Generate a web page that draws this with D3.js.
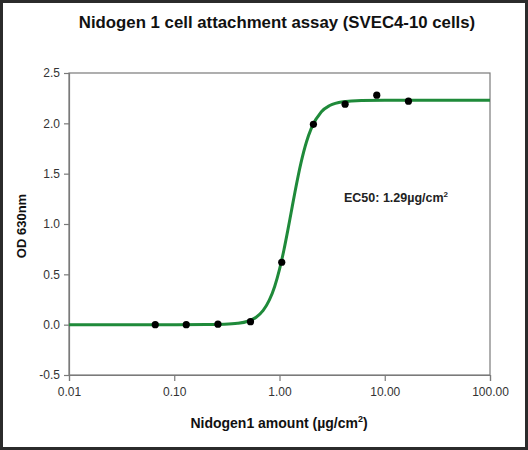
<!DOCTYPE html>
<html>
<head>
<meta charset="utf-8">
<script src="https://cdn.jsdelivr.net/npm/d3@7"></script>
<style>
  body { margin: 0; background: #fff; }
  text { font-family: "Liberation Sans", Arial, sans-serif; }
</style>
</head>
<body>
<script>
var svgWidth = 528;
var svgHeight = 450;

// measured points (amount, OD)
var amounts = [0.066, 0.13, 0.26, 0.53, 1.05, 2.1, 4.2, 8.4, 16.8];
var odValues = [0.00, 0.00, 0.005, 0.03, 0.62, 1.99, 2.19, 2.28, 2.22];

// fitted curve
var curveX = [0.01, 0.1, 0.2, 0.3, 0.4, 0.5, 0.6, 0.7, 0.8, 0.9, 1.0, 1.1, 1.2, 1.29, 1.4, 1.6, 1.8, 2.0, 2.5, 3, 4, 6, 10, 30, 100];
var curveY = [0, 0, 0.001, 0.004, 0.013, 0.034, 0.074, 0.142, 0.243, 0.38, 0.549, 0.739, 0.939, 1.115, 1.313, 1.607, 1.812, 1.947, 2.115, 2.177, 2.215, 2.228, 2.23, 2.23, 2.23];

var xTicks = [0.01, 0.1, 1, 10, 100];
var yTicks = [-0.5, 0.0, 0.5, 1.0, 1.5, 2.0, 2.5];

var margin = { left: 69, right: 490, top: 73, bottom: 375 };

var svg = d3.select("body")
  .append("svg")
  .attr("width", svgWidth)
  .attr("height", svgHeight);

// outer border
svg.append("rect")
  .attr("x", 1.5).attr("y", 1.5)
  .attr("width", svgWidth - 3).attr("height", svgHeight - 3)
  .attr("fill", "#fff")
  .attr("stroke", "#2b2b2b")
  .attr("stroke-width", 3);

var xScale = d3.scaleLog()
  .domain([0.01, 100])
  .range([margin.left, margin.right]);

var yScale = d3.scaleLinear()
  .domain([-0.5, 2.5])
  .range([margin.bottom, margin.top]);

// frame
svg.append("rect")
  .attr("x", margin.left).attr("y", margin.top)
  .attr("width", margin.right - margin.left)
  .attr("height", margin.bottom - margin.top)
  .attr("fill", "none")
  .attr("stroke", "#7a7a7a")
  .attr("stroke-width", 1.2);

// axes
var xAxis = svg.append("g")
  .attr("transform", "translate(0," + margin.bottom + ")")
  .call(d3.axisBottom(xScale).tickValues(xTicks).tickSize(6).tickPadding(6)
    .tickFormat(d3.format(".2f")));

var yAxis = svg.append("g")
  .attr("transform", "translate(" + margin.left + ",0)")
  .call(d3.axisLeft(yScale).tickValues(yTicks).tickSize(5).tickPadding(4)
    .tickFormat(function(d) { return d3.format(".1f")(d).replace("\u2212", "-"); }));

[xAxis, yAxis].forEach(function(ax) {
  ax.select(".domain").attr("stroke", "#7a7a7a").attr("stroke-width", 1.2);
  ax.selectAll(".tick line").attr("stroke", "#7a7a7a").attr("stroke-width", 1.2);
  ax.selectAll(".tick text")
    .attr("fill", "#333")
    .style("font-size", "12px")
    .style("font-family", "'Liberation Sans', Arial, sans-serif");
});

// fitted curve
var line = d3.line()
  .x(function(d, i) { return xScale(curveX[i]); })
  .y(function(d) { return yScale(d); })
  .curve(d3.curveMonotoneX);

svg.append("path")
  .datum(curveY)
  .attr("d", line)
  .attr("fill", "none")
  .attr("stroke", "#1f8a3a")
  .attr("stroke-width", 3);

// points
svg.selectAll(".pt")
  .data(odValues)
  .enter().append("circle")
  .attr("class", "pt")
  .attr("cx", function(d, i) { return xScale(amounts[i]); })
  .attr("cy", function(d) { return yScale(d); })
  .attr("r", 3.6)
  .attr("fill", "#000");

// title
svg.append("text")
  .attr("x", 277).attr("y", 28)
  .attr("text-anchor", "middle")
  .style("font-size", "16.8px")
  .style("font-weight", "bold")
  .attr("fill", "#111")
  .text("Nidogen 1 cell attachment assay (SVEC4-10 cells)");

// y label
svg.append("text")
  .attr("transform", "translate(26,226) rotate(-90)")
  .attr("text-anchor", "middle")
  .style("font-size", "13px")
  .style("font-weight", "bold")
  .attr("fill", "#111")
  .text("OD 630nm");

// x label
var xl = svg.append("text")
  .attr("x", 279).attr("y", 428)
  .attr("text-anchor", "middle")
  .style("font-size", "14px")
  .style("font-weight", "bold")
  .attr("fill", "#111");
xl.append("tspan").text("Nidogen1 amount (\u00b5g/cm");
xl.append("tspan").attr("dy", -6).style("font-size", "9px").text("2");
xl.append("tspan").attr("dy", 6).text(")");

// EC50 annotation
var ec = svg.append("text")
  .attr("x", 344).attr("y", 202)
  .style("font-size", "12.5px")
  .style("font-weight", "bold")
  .attr("fill", "#222");
ec.append("tspan").text("EC50: 1.29\u00b5g/cm");
ec.append("tspan").attr("dy", -5).style("font-size", "8px").text("2");
</script>
</body>
</html>
